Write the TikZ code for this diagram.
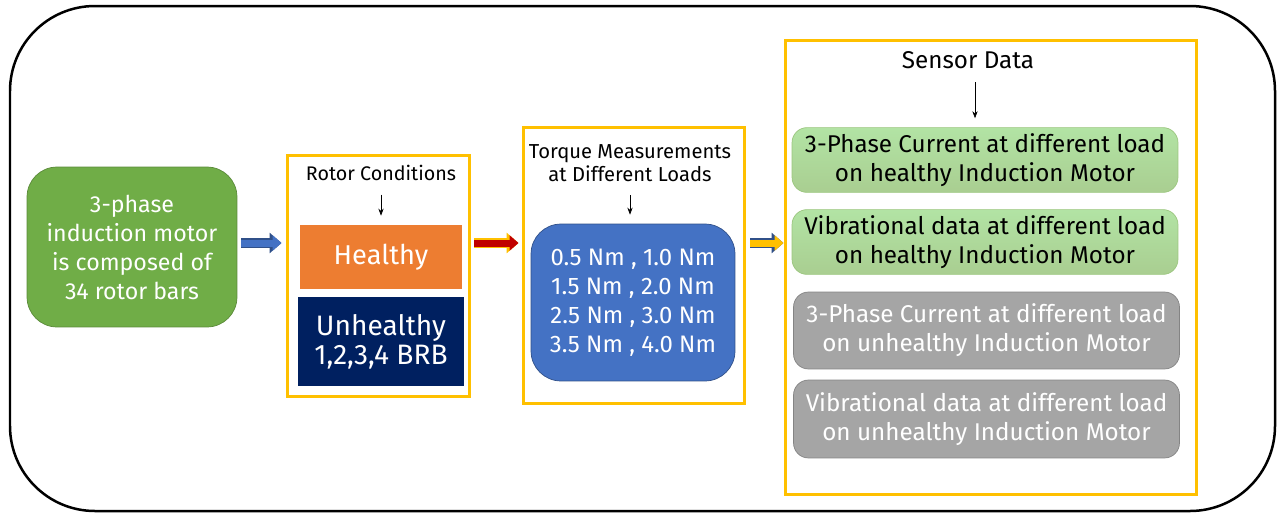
\documentclass[tikz,border=0pt]{standalone}
\usepackage{fontspec}
\setmainfont{Fira Sans}
\usepackage{tikz}
\usetikzlibrary{arrows.meta,positioning,calc}

\definecolor{motorgreen}{HTML}{70AD47}
\definecolor{boxorange}{HTML}{ED7D31}
\definecolor{boxnavy}{HTML}{002060}
\definecolor{boxblue}{HTML}{4472C4}
\definecolor{boxgrey}{HTML}{A5A5A5}
\definecolor{frameyellow}{HTML}{FFC000}
\definecolor{arrowred}{HTML}{C00000}

\tikzset{
  frame/.style={draw=frameyellow, line width=0.06cm, minimum width=#1},
  title/.style={font=\fontsize{11.2}{14}\selectfont, align=center, text=black},
  whitebox/.style={text=white, align=center, font=\fontsize{13.2}{16.5}\selectfont},
  sensorbox/.style={rounded corners=0.3cm, minimum width=7.72cm, align=center,
                    font=\fontsize{13.8}{16.5}\selectfont},
  thinarrow/.style={-{Stealth[length=4pt,width=3pt]}, thin},
  blockarrow/.style 2 args={
    preaction={draw=#2, line width=0.2cm, -{Triangle[length=0.24cm,width=0.4cm]}},
    draw=#1, line width=0.14cm, -{Triangle[length=0.18cm,width=0.3cm]}},
}

\begin{document}
\begin{tikzpicture}[x=0.02cm, y=-0.02cm]
  \useasboundingbox (0,0) rectangle (1278,514);
  % outer frame
  \draw[line width=0.05cm, rounded corners=1.7cm] (10,6) rectangle (1275,511);

  % motor
  \node[fill=motorgreen, draw=motorgreen!80!black, rounded corners=0.6cm,
        minimum width=4.2cm, minimum height=3.2cm, whitebox] (motor) at (132,247)
        {3-phase\\induction motor\\is composed of\\34 rotor bars};

  % rotor conditions
  \node[frame=3.66cm, minimum height=4.84cm] (rotframe) at (378.5,276) {};
  \node[title] (rottitle) at (381,173) {Rotor Conditions};
  \node[fill=boxorange, minimum width=3.24cm, minimum height=1.28cm, whitebox,
        font=\fontsize{15.5}{17}\selectfont] (healthy) at (381,257) {Healthy};
  \node[fill=boxnavy, minimum width=3.32cm, minimum height=1.78cm, whitebox,
        font=\fontsize{16}{16.5}\selectfont] (unhealthy) at (381,341.5) {Unhealthy\\1,2,3,4 BRB};
  \draw[thinarrow] ([yshift=-0.15cm]rottitle.south) -- ([yshift=0.18cm]healthy.north);

  % torque
  \node[frame=4.44cm, minimum height=5.54cm] (torqframe) at (634,265.5) {};
  \node[title, font=\fontsize{11.5}{13}\selectfont] (torqtitle) at (630,163)
        {Torque Measurements\\at Different Loads};
  \node[fill=boxblue, draw=boxblue!70!black, rounded corners=0.6cm,
        minimum width=4.08cm, minimum height=3.14cm, whitebox,
        font=\fontsize{13.6}{16.5}\selectfont] (loads) at (633,302.5)
        {0.5 Nm , 1.0 Nm\\1.5 Nm , 2.0 Nm\\2.5 Nm , 3.0 Nm\\3.5 Nm , 4.0 Nm};
  \draw[thinarrow] ([yshift=-0.15cm]torqtitle.south) -- ([yshift=0.18cm]loads.north -| torqtitle.south);

  % sensor data
  \node[frame=8.24cm, minimum height=9.1cm] (sensframe) at (991,267.5) {};
  \node[title, font=\fontsize{13.8}{14}\selectfont] (senstitle) at (968,60) {Sensor Data};
  \node[sensorbox, top color=green!25!motorgreen!45, bottom color=motorgreen!60,
        draw=motorgreen!70, minimum height=1.28cm] (healthcur) at (985,160)
        {3-Phase Current at different load\\on healthy Induction Motor};
  \node[sensorbox, top color=green!25!motorgreen!45, bottom color=motorgreen!60,
        draw=motorgreen!70, minimum height=1.28cm] (healthvib) at (985,242)
        {Vibrational data at different load\\on healthy Induction Motor};
  \node[sensorbox, fill=boxgrey, draw=boxgrey!80!black, text=white,
        minimum height=1.54cm] (faultcur) at (986.5,330.5)
        {3-Phase Current at different load\\on unhealthy Induction Motor};
  \node[sensorbox, fill=boxgrey, draw=boxgrey!80!black, text=white,
        minimum height=1.56cm] (faultvib) at (986.5,419)
        {Vibrational data at different load\\on unhealthy Induction Motor};
  \draw[thinarrow] ([xshift=0.14cm,yshift=-0.15cm]senstitle.south) -- ([xshift=0.14cm,yshift=0.18cm]healthcur.north -| senstitle.south);

  % block arrows between stages
  \coordinate (arrowrow) at (0,243);
  \draw[blockarrow={boxblue}{boxblue!70!black}, shorten <=0.08cm, shorten >=0.08cm]
    (motor.east |- arrowrow) -- (rotframe.west |- arrowrow);
  \draw[blockarrow={arrowred}{frameyellow}, shorten <=0.06cm, shorten >=0.06cm]
    (rotframe.east |- arrowrow) -- (torqframe.west |- arrowrow);
  \draw[blockarrow={frameyellow}{boxblue!70!black}, shorten <=0.08cm]
    (torqframe.east |- arrowrow) -- (sensframe.west |- arrowrow);
\end{tikzpicture}
\end{document}
